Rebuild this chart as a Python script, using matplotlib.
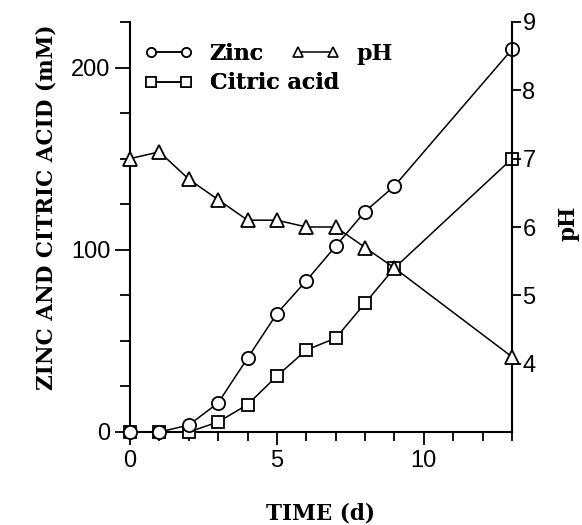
import matplotlib
matplotlib.use("Agg")
import matplotlib.pyplot as plt
from matplotlib.lines import Line2D
from matplotlib.ticker import MultipleLocator

# ---- data ----
days = [0, 1, 2, 3, 4, 5, 6, 7, 8, 9, 13]
zinc = [0, 0, 3.8, 16, 40.5, 65, 83, 102, 121, 135, 210]
citric = [0, 0, 0, 5.5, 15, 30.7, 45, 51.5, 70.7, 90, 150]
ph = [7.0, 7.1, 6.7, 6.4, 6.1, 6.1, 6.0, 6.0, 5.7, 5.4, 4.1]

xlabel = "TIME (d)"
ylabel_left = "ZINC AND CITRIC ACID (mM)"
ylabel_right = "pH"
x_major = [0, 5, 10]
left_major = [0, 100, 200]
right_major = [4, 5, 6, 7, 8, 9]

serif = "DejaVu Serif"
sans = "Liberation Sans"

fig = plt.figure(figsize=(5.82, 5.25), dpi=100)
ax = fig.add_axes([130/582, 1-432/525, (512-130)/582, (432-22)/525])
ax2 = ax.twinx()

lw = 1.1
mk = dict(markerfacecolor="white", markeredgecolor="black", markeredgewidth=1.3,
          color="black", linewidth=lw, clip_on=False)

ax.plot(days, citric, marker="s", markersize=8.5, zorder=3, **mk)
ax.plot(days, zinc, marker="o", markersize=9.5, zorder=4, **mk)
ax2.plot(days, ph, marker="^", markersize=9.5, zorder=3, **mk)

ax.set_xlim(0, 13)
ax.set_ylim(0, 225)
ax2.set_ylim(3, 9)

for a in (ax, ax2):
    a.spines["top"].set_visible(False)
    for s in a.spines.values():
        s.set_linewidth(1.5)
ax.spines["right"].set_visible(False)
ax2.spines["left"].set_visible(False)
ax2.spines["bottom"].set_visible(False)

ax.set_xticks(x_major)
ax.xaxis.set_minor_locator(MultipleLocator(1))
ax.set_yticks(left_major)
ax.yaxis.set_minor_locator(MultipleLocator(25))
ax2.set_yticks(right_major)

ax.tick_params(axis="x", which="major", direction="out", length=9, width=1.3, pad=4, labelsize=17)
ax.tick_params(axis="x", which="minor", direction="out", length=6.5, width=1.3)
ax.tick_params(axis="y", which="major", direction="out", length=11, width=1.3, pad=3, labelsize=17)
ax.tick_params(axis="y", which="minor", direction="out", length=7, width=1.3)
ax2.tick_params(axis="y", which="major", direction="out", length=6.5, width=1.3, pad=1, labelsize=17)

for lab in ax.get_xticklabels() + ax.get_yticklabels() + ax2.get_yticklabels():
    lab.set_family(sans)

ax.set_xlabel(xlabel, family=serif, fontweight="bold", fontsize=15.5, labelpad=22)
ax.set_ylabel(ylabel_left, family=serif, fontweight="bold", fontsize=15.5)
ax.yaxis.set_label_coords(-0.19, 0.548)
ax2.set_ylabel(ylabel_right, family=serif, fontweight="bold", fontsize=15.5)
ax2.yaxis.set_label_coords(1.12, 0.508)

hk = {k: v for k, v in mk.items() if k != "clip_on"}
hk["markeredgewidth"] = 1.2
h_zinc = Line2D([], [], marker="o", markersize=6.5, **hk)
h_cit = Line2D([], [], marker="s", markersize=6.5, **hk)
h_ph = Line2D([], [], marker="^", markersize=6.5, **hk)

lp = dict(frameon=False, numpoints=2, handlelength=2.2, handletextpad=0.75,
          prop={"family": serif, "weight": "bold", "size": 16}, borderaxespad=0,
          borderpad=0, labelspacing=0.33)
leg1 = ax.legend([h_zinc, h_cit], ["Zinc", "Citric acid"], loc="upper left",
                 bbox_to_anchor=(14/382, 1-21/410), **lp)
ax.add_artist(leg1)
leg2 = ax2.legend([h_ph], ["pH"], loc="upper left",
                  bbox_to_anchor=(161/382, 1-21/410), **lp)

fig.savefig("out.png", dpi=100)
